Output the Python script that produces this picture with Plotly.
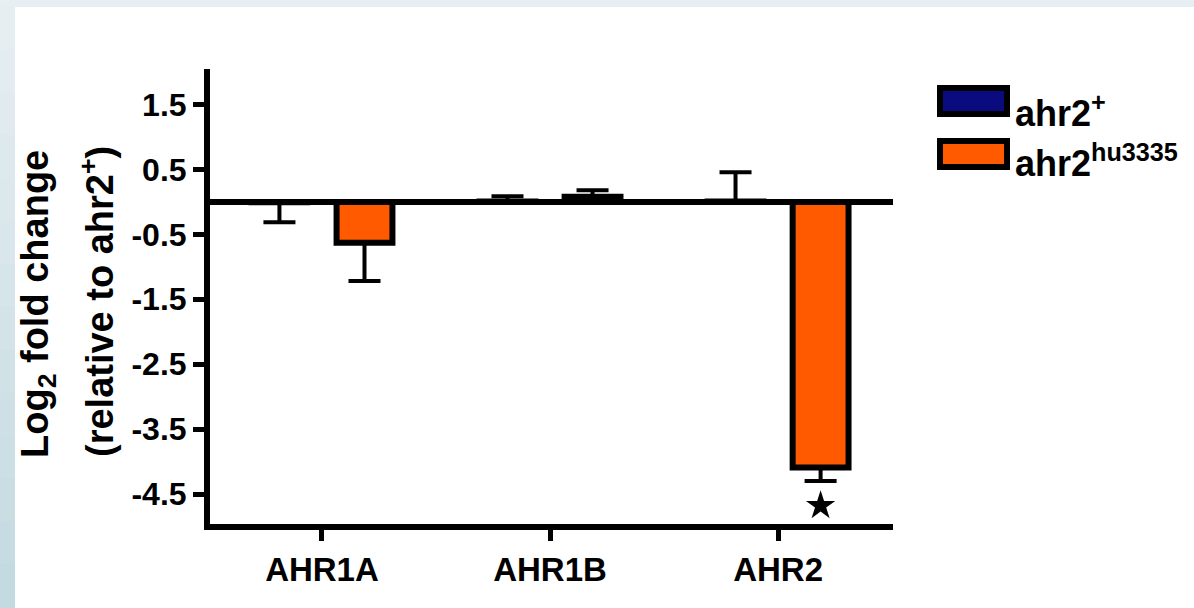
import plotly.graph_objects as go

# ---------------- data ----------------
genes = ["AHR1A", "AHR1B", "AHR2"]
gene_pos = [0, 1, 2]
wt_mean = [-0.005, 0.005, 0.005]       # ahr2+
wt_err = [0.31, 0.08, 0.45]
mut_mean = [-0.63, 0.08, -4.09]        # ahr2 hu3335
mut_err = [0.59, 0.10, 0.21]
significant = [False, False, True]
y_ticks = [1.5, 0.5, -0.5, -1.5, -2.5, -3.5, -4.5]
y_tick_text = ["1.5", "0.5", "-0.5", "-1.5", "-2.5", "-3.5", "-4.5"]
series_names = ["ahr2<sup>+</sup>", "ahr2<sup>hu3335</sup>"]
series_colors = ["#0B0B80", "#FF5A00"]

# ---------------- geometry ----------------
W, H = 1194, 608
ML, MR, MT, MB = 210, 301, 69, 84
PW, PH = W - ML - MR, H - MT - MB
BARGAP, GROUPGAP = 0.254, 0.343
FONT = "Liberation Sans, Arial, sans-serif"


def px2x(px):
    return (px - ML) / PW


def py2y(py):
    return (H - MB - py) / PH


def one_sided(means, errs):
    up = [e if m >= 0 else 0 for m, e in zip(means, errs)]
    down = [e if m < 0 else 0 for m, e in zip(means, errs)]
    return up, down


fig = go.Figure()
for name, means, errs, col in [(series_names[0], wt_mean, wt_err, series_colors[0]),
                               (series_names[1], mut_mean, mut_err, series_colors[1])]:
    up, down = one_sided(means, errs)
    fig.add_trace(go.Bar(
        x=gene_pos, y=means, name=name,
        marker=dict(color=col, line=dict(color="black", width=6)),
        error_y=dict(type="data", symmetric=False, array=up, arrayminus=down,
                     color="black", thickness=4, width=16),
        showlegend=False,
    ))

# significance star under the mutant bar
off = (1 - BARGAP) / 4
star_x = [p + off for p, s in zip(gene_pos, significant) if s]
star_y = [m - e - 0.38 for m, e, s in zip(mut_mean, mut_err, significant) if s]
fig.add_trace(go.Scatter(x=star_x, y=star_y, mode="markers",
                         marker=dict(symbol="star", size=22, color="black"),
                         cliponaxis=False, showlegend=False, hoverinfo="skip"))

shapes = []
# background panel
shapes.append(dict(type="rect", xref="paper", yref="paper", layer="below",
                   x0=px2x(15), x1=px2x(W + 5), y0=py2y(7), y1=py2y(H + 5),
                   fillcolor="white", line=dict(width=0)))
# left gradient strip
n = 14
c0 = (0xE6, 0xEE, 0xF1)
c1 = (0xC4, 0xDA, 0xE1)
for i in range(n):
    t = i / (n - 1)
    c = tuple(round(a + (b - a) * t) for a, b in zip(c0, c1))
    shapes.append(dict(type="rect", xref="paper", yref="paper", layer="below",
                       x0=px2x(-5), x1=px2x(15),
                       y0=py2y(7 + (H - 7) * i / n - 1), y1=py2y(7 + (H - 7) * (i + 1) / n + 1),
                       fillcolor="rgb(%d,%d,%d)" % c, line=dict(width=0)))
# legend swatches
for i, col in enumerate(series_colors):
    top = 88 + 53 * i
    shapes.append(dict(type="rect", xref="paper", yref="paper",
                       x0=px2x(940), x1=px2x(1007), y0=py2y(top + 26), y1=py2y(top),
                       fillcolor=col, line=dict(color="black", width=6)))

annotations = []
for i, name in enumerate(series_names):
    annotations.append(dict(xref="paper", yref="paper", x=px2x(1013), y=py2y(127 + 50 * i + 9),
                            xanchor="left", yanchor="bottom", showarrow=False, text=name,
                            font=dict(family=FONT, size=36, color="black", weight="bold")))
# y-axis title (two lines)
annotations.append(dict(xref="paper", yref="paper", x=px2x(38), y=py2y(304),
                        xanchor="center", yanchor="middle", textangle=-90, showarrow=False,
                        text="Log<sub>2</sub> fold change",
                        font=dict(family=FONT, size=38, color="black", weight="bold")))
annotations.append(dict(xref="paper", yref="paper", x=px2x(97), y=py2y(302),
                        xanchor="center", yanchor="middle", textangle=-90, showarrow=False,
                        text="(relative to ahr2<sup>+</sup>)",
                        font=dict(family=FONT, size=38, color="black", weight="bold")))

fig.update_layout(
    width=W, height=H, autosize=False,
    margin=dict(l=ML, r=MR, t=MT, b=MB, pad=0),
    paper_bgcolor="#E8EFF2", plot_bgcolor="rgba(0,0,0,0)",
    barmode="group", bargap=BARGAP, bargroupgap=GROUPGAP,
    shapes=shapes, annotations=annotations, showlegend=False,
    font=dict(family=FONT, color="black"),
)
fig.update_xaxes(
    range=[-0.491, 2.504], tickvals=gene_pos, ticktext=genes,
    showline=True, linewidth=6, linecolor="black",
    ticks="outside", ticklen=11, tickwidth=5, tickcolor="black",
    tickfont=dict(family=FONT, size=33, color="black", weight="bold"),
    showgrid=False, zeroline=False,
)
fig.update_yaxes(
    range=[-4.962, 2.047], tickvals=y_ticks, ticktext=y_tick_text,
    showline=True, linewidth=6, linecolor="black",
    ticks="outside", ticklen=11, tickwidth=5, tickcolor="black",
    tickfont=dict(family=FONT, size=32, color="black", weight="bold"),
    showgrid=False, zeroline=True, zerolinewidth=6, zerolinecolor="black",
)

fig.write_html("out.html", config={"displayModeBar": False},
               post_script="document.body.style.margin='0';document.body.style.overflow='hidden';")
